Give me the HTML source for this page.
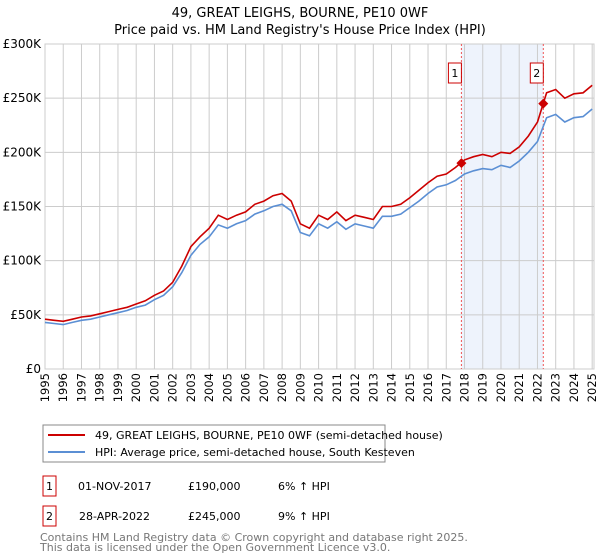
<!DOCTYPE html>
<html><head><meta charset="utf-8"><style>
body{margin:0;background:#fff;font-family:"Liberation Sans","DejaVu Sans",sans-serif;}
svg{display:block}
</style></head><body>
<svg width="600" height="560" viewBox="0 0 600 560" font-family="DejaVu Sans, Liberation Sans, sans-serif">
<text x="300" y="17" text-anchor="middle" font-size="13">49, GREAT LEIGHS, BOURNE, PE10 0WF</text>
<text x="300" y="34" text-anchor="middle" font-size="13">Price paid vs. HM Land Registry's House Price Index (HPI)</text>
<g id="plot"></g>
<rect x="43" y="425" width="342" height="37" fill="#fff" stroke="#888"/>
<line x1="48" y1="435" x2="85" y2="435" stroke="#cc0000" stroke-width="2"/>
<text x="95" y="439" font-size="11">49, GREAT LEIGHS, BOURNE, PE10 0WF (semi-detached house)</text>
<line x1="48" y1="452" x2="85" y2="452" stroke="#5b8fd4" stroke-width="2"/>
<text x="95" y="456" font-size="11">HPI: Average price, semi-detached house, South Kesteven</text>
<rect x="43" y="476" width="13" height="20" fill="#fff" stroke="#cc0000"/>
<text x="49.5" y="490" font-size="11" text-anchor="middle">1</text>
<text x="78" y="490" font-size="11">01-NOV-2017</text>
<text x="188" y="490" font-size="11">£190,000</text>
<text x="278" y="490" font-size="11">6% ↑ HPI</text>
<rect x="43" y="506" width="13" height="20" fill="#fff" stroke="#cc0000"/>
<text x="49.5" y="520" font-size="11" text-anchor="middle">2</text>
<text x="79" y="520" font-size="11">28-APR-2022</text>
<text x="188" y="520" font-size="11">£245,000</text>
<text x="278" y="520" font-size="11">9% ↑ HPI</text>
<text x="40" y="541" font-size="11" fill="#777">Contains HM Land Registry data © Crown copyright and database right 2025.</text>
<text x="40" y="551" font-size="11" fill="#777">This data is licensed under the Open Government Licence v3.0.</text>
</svg>
<script>
const years=[1995,1995.5,1996,1996.5,1997,1997.5,1998,1998.5,1999,1999.5,2000,2000.5,2001,2001.5,2002,2002.5,2003,2003.5,2004,2004.5,2005,2005.5,2006,2006.5,2007,2007.5,2008,2008.5,2009,2009.5,2010,2010.5,2011,2011.5,2012,2012.5,2013,2013.5,2014,2014.5,2015,2015.5,2016,2016.5,2017,2017.5,2018,2018.5,2019,2019.5,2020,2020.5,2021,2021.5,2022,2022.5,2023,2023.5,2024,2024.5,2025];
const propertyValues=[46,45,44,46,48,49,51,53,55,57,60,63,68,72,80,95,113,122,130,142,138,142,145,152,155,160,162,155,134,130,142,138,145,137,142,140,138,150,150,152,158,165,172,178,180,186,193,196,198,196,200,199,205,215,228,255,258,250,254,255,262];
const hpiValues=[43,42,41,43,45,46,48,50,52,54,57,59,64,68,76,89,105,115,122,133,130,134,137,143,146,150,152,146,126,123,134,130,136,129,134,132,130,141,141,143,149,155,162,168,170,174,180,183,185,184,188,186,192,200,210,232,235,228,232,233,240];
const sales=[{t:2017.83,v:190,label:'1'},{t:2022.32,v:245,label:'2'}];
const yTicks=[0,50,100,150,200,250,300];
const xTicks=[1995,1996,1997,1998,1999,2000,2001,2002,2003,2004,2005,2006,2007,2008,2009,2010,2011,2012,2013,2014,2015,2016,2017,2018,2019,2020,2021,2022,2023,2024,2025];
const X0=45,X1=594,Y0=369,Y1=44;
const xs=t=>X0+(t-1995)/(2025.1-1995)*(X1-X0);
const ys=v=>Y0-v/300*(Y0-Y1);
const NS='http://www.w3.org/2000/svg';
const g=document.getElementById('plot');
function mk(tag,attrs){const e=document.createElementNS(NS,tag);for(const k in attrs)e.setAttribute(k,attrs[k]);g.appendChild(e);return e;}
let e=mk('rect',{x:xs(sales[0].t),y:Y1,width:xs(sales[1].t)-xs(sales[0].t),height:Y0-Y1,fill:'#eef3fc'});


xTicks.forEach(t=>{const l=mk('line',{x1:xs(t),x2:xs(t),y1:Y1,y2:Y0,stroke:'#ccc'});


const x=xs(t)+4,y=Y0+4;
const tx=mk('text',{x:x,y:y,'font-size':11.5,'text-anchor':'end',transform:`rotate(-90 ${x} ${y})`});tx.textContent=t;

});
yTicks.forEach(v=>{const l=mk('line',{x1:X0,x2:X1,y1:ys(v),y2:ys(v),stroke:'#ccc'});


const tx=mk('text',{x:X0-4,y:ys(v)+4,'font-size':12,'text-anchor':'end'});tx.textContent=v===0?'£0':'£'+v+'K';

});
e=mk('rect',{x:X0,y:Y1,width:X1-X0,height:Y0-Y1,fill:'none',stroke:'#ccc'});


sales.forEach(s=>{const l=mk('line',{x1:xs(s.t),x2:xs(s.t),y1:Y1,y2:Y0,stroke:'#e55','stroke-dasharray':'2,2'});

});
const pts=a=>a.map((v,i)=>xs(years[i]).toFixed(1)+','+ys(v).toFixed(1)).join(' ');
e=mk('polyline',{points:pts(hpiValues),fill:'none',stroke:'#5b8fd4','stroke-width':1.6});


e=mk('polyline',{points:pts(propertyValues),fill:'none',stroke:'#cc0000','stroke-width':1.6});


sales.forEach(s=>{const x=xs(s.t),y=ys(s.v);
const d=mk('polygon',{points:`${x},${y-5} ${x+5},${y} ${x},${y+5} ${x-5},${y}`,fill:'#cc0000'});


const b=mk('rect',{x:x-13,y:63,width:13,height:20,fill:'#fff',stroke:'#cc0000'});


const tx=mk('text',{x:x-6.5,y:77,'font-size':11,'text-anchor':'middle'});tx.textContent=s.label;

});
</script>
</body></html>
